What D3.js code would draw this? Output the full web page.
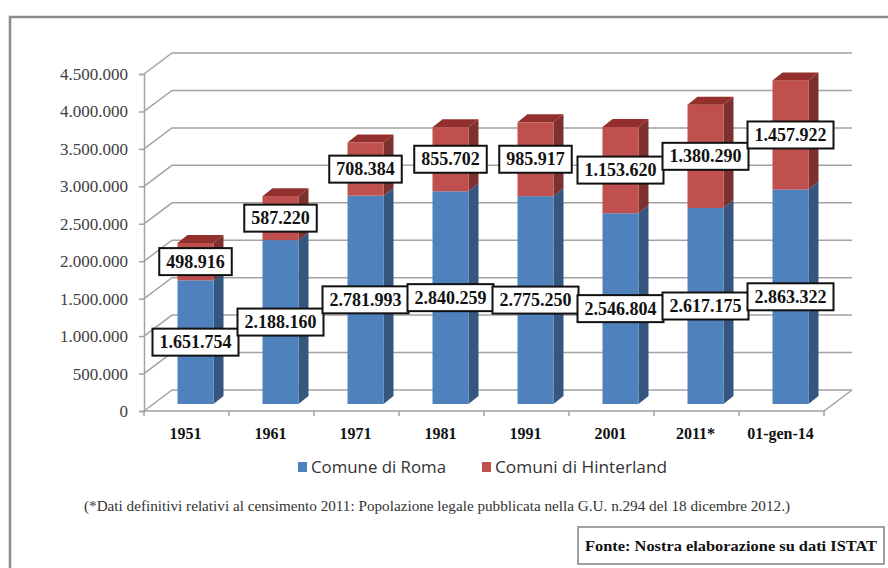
<!DOCTYPE html>
<html>
<head>
<meta charset="utf-8">
<script src="https://cdn.jsdelivr.net/npm/d3@7"></script>
<style>
  html, body { margin: 0; padding: 0; background: #fff; }
  svg { display: block; }
</style>
</head>
<body>
<svg id="chart" width="888" height="568"></svg>
<script>
// ---- data ----
const categories = ["1951", "1961", "1971", "1981", "1991", "2001", "2011*", "01-gen-14"];
const comuneDiRoma = [1651754, 2188160, 2781993, 2840259, 2775250, 2546804, 2617175, 2863322];
const comuniHinterland = [498916, 587220, 708384, 855702, 985917, 1153620, 1380290, 1457922];
const yTickValues = [0, 500000, 1000000, 1500000, 2000000, 2500000, 3000000, 3500000, 4000000, 4500000];
const seriesNames = ["Comune di Roma", "Comuni di Hinterland"];
const footnote = "(*Dati definitivi relativi al censimento 2011: Popolazione legale pubblicata nella G.U. n.294 del 18 dicembre 2012.)";
const sourceNote = "Fonte: Nostra elaborazione su dati ISTAT";

const itLocale = d3.formatLocale({ decimal: ",", thousands: ".", grouping: [3], currency: ["", "€"] });
const fmt = itLocale.format(",d");
const SERIF = "'Liberation Serif', 'Times New Roman', serif";

const svg = d3.select("#chart");

// outer frame
svg.append("path").attr("d", "M10,568 L10,17 L888,17")
  .attr("fill", "none").attr("stroke", "#8c8c8c").attr("stroke-width", 2.5);

// geometry
const depthDX = 28, depthDY = -21;
const y = d3.scaleLinear().domain([0, 4500000]).range([411, 74]);
const x = d3.scaleBand().domain(categories).range([144, 824]).paddingInner(0).paddingOuter(0);

const gridColor = "#a3a3a3";
const grid = svg.append("g");
yTickValues.forEach(v => {
  const yf = y(v);
  grid.append("path")
    .attr("d", `M144,${yf} L${144 + depthDX},${yf + depthDY} L852,${yf + depthDY}`)
    .attr("fill", "none").attr("stroke", gridColor).attr("stroke-width", 1.5);
});

// front y axis via d3.axisLeft
const yAxis = d3.axisLeft(y).tickValues(yTickValues).tickFormat(fmt).tickSize(5).tickPadding(11);
const ya = svg.append("g").attr("transform", "translate(144,0)").call(yAxis)
  .attr("font-family", SERIF).attr("font-size", 17);
ya.select(".domain").attr("stroke", gridColor).attr("stroke-width", 1.5);
ya.selectAll(".tick line").attr("stroke", gridColor).attr("stroke-width", 1.5);
ya.selectAll(".tick text")
  .attr("font-family", SERIF)
  .style("font-family", SERIF).style("font-size", "17px").attr("fill", "#404040");

// floor front edge + right edge
svg.append("path")
  .attr("d", `M144,${y(0)} L824,${y(0)} L${824 + depthDX},${y(0) + depthDY}`)
  .attr("fill", "none").attr("stroke", gridColor).attr("stroke-width", 1.5);

// x axis ticks & labels
const boundaries = categories.map(c => x(c)).concat([x.range()[1]]);
svg.append("g").selectAll("line").data(boundaries).join("line")
  .attr("x1", d => d).attr("x2", d => d).attr("y1", y(0)).attr("y2", y(0) + 5)
  .attr("stroke", gridColor).attr("stroke-width", 1.5);
svg.append("g").selectAll("text").data(categories).join("text")
  .attr("x", d => x(d) + x.bandwidth() / 2 - 1)
  .attr("y", 439)
  .attr("text-anchor", "middle")
  .style("font-family", SERIF)
  .attr("font-weight", "bold").attr("font-size", 16).attr("fill", "#111")
  .text(d => d);

// bars (3D)
const barShiftX = 9, barShiftY = -7;   // front face offset into depth
const barW = 36, sideDX = 10, sideDY = -8;
const colors = {
  blue: { front: "#4f81bd", side: "#34567f", top: "#3f6aa0" },
  red: { front: "#c0504d", side: "#7e302e", top: "#93302e" }
};
const bars = svg.append("g");
const labelData = [];
categories.forEach((c, i) => {
  const cx = x(c) + x.bandwidth() / 2 + barShiftX;
  const x0 = cx - barW / 2, x1 = cx + barW / 2;
  const segs = [
    { v0: 0, v1: comuneDiRoma[i], col: colors.blue },
    { v0: comuneDiRoma[i], v1: comuneDiRoma[i] + comuniHinterland[i], col: colors.red }
  ];
  segs.forEach((s, k) => {
    const yb = y(s.v0) + barShiftY, yt = y(s.v1) + barShiftY;
    bars.append("path")
      .attr("d", `M${x1},${yb} L${x1 + sideDX},${yb + sideDY} L${x1 + sideDX},${yt + sideDY} L${x1},${yt} Z`)
      .attr("fill", s.col.side);
    bars.append("rect").attr("x", x0).attr("y", yt).attr("width", barW).attr("height", yb - yt)
      .attr("fill", s.col.front);
    if (k === 1) {
      bars.append("path")
        .attr("d", `M${x0},${yt} L${x1},${yt} L${x1 + sideDX},${yt + sideDY} L${x0 + sideDX},${yt + sideDY} Z`)
        .attr("fill", s.col.top);
    }
    labelData.push({ x: cx, y: (yb + yt) / 2, v: s.v1 - s.v0 });
  });
});

// data labels
const lg = svg.append("g");
labelData.forEach(d => {
  const g = lg.append("g");
  const rect = g.append("rect").attr("fill", "#fff").attr("stroke", "#111").attr("stroke-width", 2);
  const t = g.append("text").attr("x", d.x).attr("y", d.y + 6)
    .attr("text-anchor", "middle")
    .style("font-family", SERIF)
    .attr("font-weight", "bold").attr("font-size", 18).attr("fill", "#111")
    .text(fmt(d.v));
  const w = t.node().getComputedTextLength() + 14;
  rect.attr("x", d.x - w / 2).attr("y", d.y - 13.5).attr("width", w).attr("height", 27);
});

// legend
const legend = svg.append("g");
const legendItems = [
  { name: seriesNames[0], color: colors.blue.front, sx: 298, len: 135 },
  { name: seriesNames[1], color: colors.red.front, sx: 482, len: 172 }
];
legendItems.forEach(it => {
  legend.append("rect").attr("x", it.sx).attr("y", 462).attr("width", 9).attr("height", 10).attr("fill", it.color);
  legend.append("text").attr("x", it.sx + 13).attr("y", 473)
    .style("font-family", "'Open Sans', 'Liberation Sans', sans-serif")
    .attr("font-size", 16).attr("fill", "#333")
    .attr("textLength", it.len).attr("lengthAdjust", "spacingAndGlyphs")
    .text(it.name);
});

// footnote
svg.append("text").attr("x", 84).attr("y", 511)
  .style("font-family", SERIF)
  .attr("font-size", 14).attr("fill", "#333")
  .attr("textLength", 706).attr("lengthAdjust", "spacingAndGlyphs")
  .text(footnote);

// source box
svg.append("rect").attr("x", 578).attr("y", 527).attr("width", 306).attr("height", 37)
  .attr("fill", "#fff").attr("stroke", "#a0a0a0").attr("stroke-width", 2);
svg.append("text").attr("x", 585).attr("y", 551)
  .style("font-family", SERIF)
  .attr("font-weight", "bold").attr("font-size", 15).attr("fill", "#111")
  .attr("textLength", 292).attr("lengthAdjust", "spacingAndGlyphs")
  .text(sourceNote);
</script>
</body>
</html>
